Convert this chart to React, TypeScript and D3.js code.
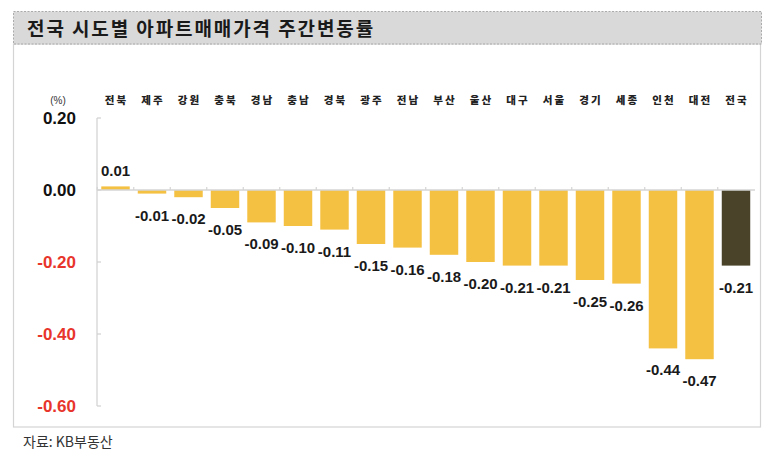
import * as d3 from 'd3';

const regions = ['전북', '제주', '강원', '충북', '경남', '충남', '경북', '광주', '전남', '부산', '울산', '대구', '서울', '경기', '세종', '인천', '대전', '전국'];
const changes = [0.01, -0.01, -0.02, -0.05, -0.09, -0.1, -0.11, -0.15, -0.16, -0.18, -0.2, -0.21, -0.21, -0.25, -0.26, -0.44, -0.47, -0.21];
const yTicks = [0.2, 0, -0.2, -0.4, -0.6];
const title = '전국 시도별 아파트매매가격 주간변동률';
const source = '자료: KB부동산';
const unit = '(%)';

const W = 773;
const H = 456;
const NUM_FONT = '"Liberation Sans", Arial, "Noto Sans CJK KR", sans-serif';
const KR_FONT = '"Noto Sans CJK KR", "Liberation Sans", sans-serif';

// plain hyphen instead of d3's unicode minus
const fmt = (v: number) => d3.format('.2f')(v).replace('\u2212', '-');

export default function App() {
    const x = d3.scaleBand<string>().domain(regions).range([97.25, 754.25]).paddingInner(0.22).paddingOuter(0.11);
    const y = d3.scaleLinear().domain([-0.6, 0.2]).range([406, 118]);
    const y0 = y(0);
    const step = x.step();

    return (
        <svg width={W} height={H} style={{ position: 'absolute', left: 0, top: 0 }}>
            <rect x={0} y={0} width={W} height={H} fill="#fff" />
            {/* frame */}
            <rect x={13.5} y={44} width={747} height={383} fill="#fff" stroke="#d4d4d4" strokeWidth={1.2} />
            <rect x={13.5} y={11.5} width={748} height={32.5} fill="#d9d9d9" stroke="#9a9a9a" strokeWidth={0.8} strokeDasharray="2,1.5" />
            <text x={27} y={36} fontFamily={KR_FONT} fontSize={19} fontWeight={700} letterSpacing={1.9} fill="#1a1a1a">
                {title}
            </text>

            {/* unit + category labels */}
            <text x={58} y={104} textAnchor="middle" fontFamily={NUM_FONT} fontSize={10} fill="#333">
                {unit}
            </text>
            {regions.map((r) => (
                <text key={r} x={x(r)! + x.bandwidth() / 2 + 1} y={104} textAnchor="middle" fontFamily={KR_FONT} fontSize={10.5} fontWeight={900} letterSpacing={2} fill="#222">
                    {r}
                </text>
            ))}

            {/* y axis */}
            <line x1={97} x2={97} y1={y(0.2)} y2={y(-0.6)} stroke="#d0d0d0" strokeWidth={1.2} />
            {yTicks.map((t) => (
                <g key={t}>
                    <line x1={97} x2={101} y1={y(t)} y2={y(t)} stroke="#d0d0d0" strokeWidth={1.2} />
                    <text x={76} y={y(t)} dy="0.36em" textAnchor="end" fontFamily={NUM_FONT} fontSize={17} fontWeight={700} fill={t < 0 ? '#e8352c' : '#111'}>
                        {fmt(t)}
                    </text>
                </g>
            ))}

            {/* bars */}
            {regions.map((r, i) => {
                const v = changes[i];
                const top = Math.min(y(v), y0);
                const h = Math.abs(y(v) - y0);
                return (
                    <rect key={r} x={x(r)} y={top} width={x.bandwidth()} height={Math.max(h, 1)} fill={r === '전국' ? '#4a4329' : '#f5c143'} />
                );
            })}

            {/* zero line with band ticks */}
            <line x1={97} x2={755} y1={y0} y2={y0} stroke="#d4d4d4" strokeWidth={1.5} />
            {regions.map((r) => (
                <line key={r} x1={x(r)! - (step - x.bandwidth()) / 2} x2={x(r)! - (step - x.bandwidth()) / 2} y1={y0} y2={y0 - 3} stroke="#d4d4d4" strokeWidth={1.2} />
            ))}

            {/* value labels */}
            {regions.map((r, i) => {
                const v = changes[i];
                const ly = v >= 0 ? y(v) - 10 : y(v) + 27;
                return (
                    <text key={r} x={x(r)! + x.bandwidth() / 2} y={ly} textAnchor="middle" fontFamily={NUM_FONT} fontSize={15} fontWeight={700} fill="#1a1a1a">
                        {fmt(v)}
                    </text>
                );
            })}

            <text x={23} y={447} fontFamily={KR_FONT} fontSize={14} fill="#333">
                {source}
            </text>
        </svg>
    );
}
